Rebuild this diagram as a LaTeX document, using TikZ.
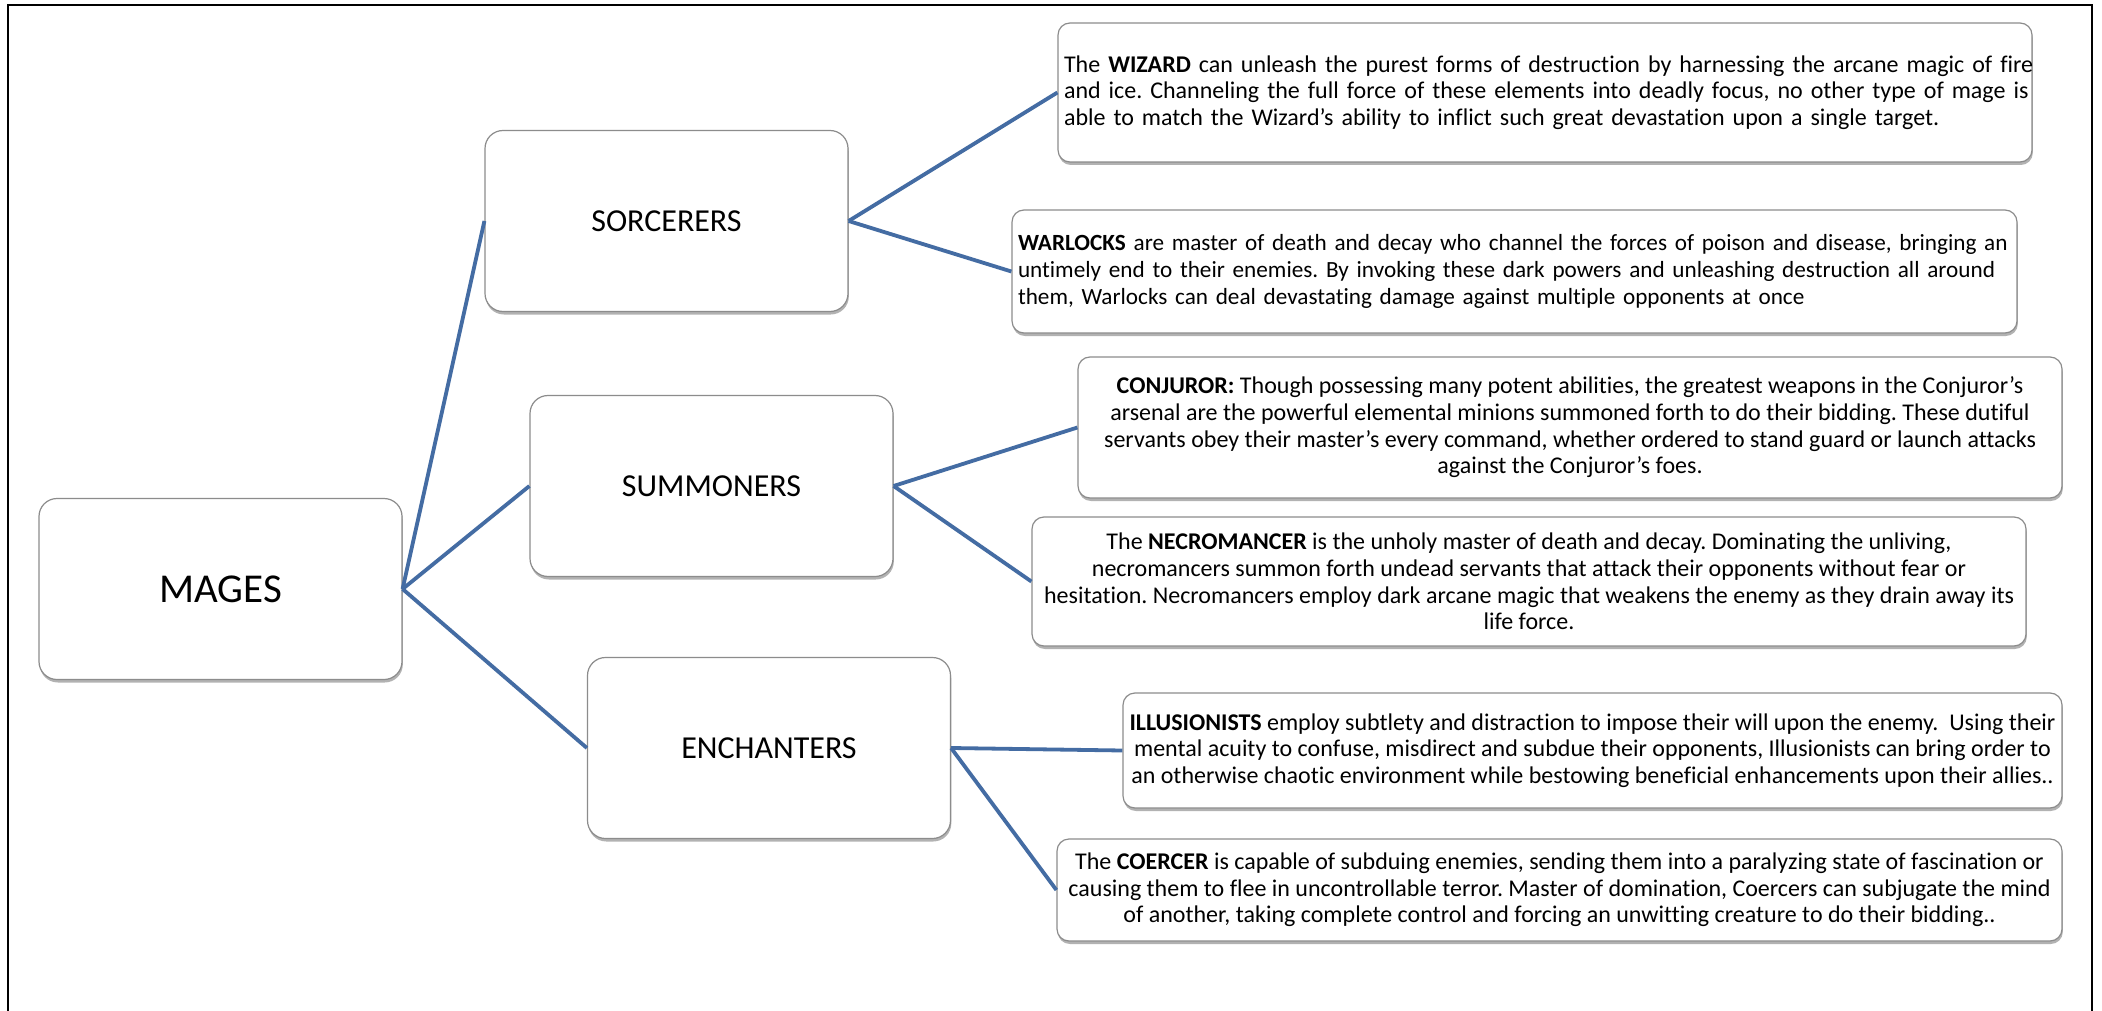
\documentclass[tikz,border=0pt]{standalone}
\usepackage{fontspec}
\setmainfont{Carlito}[Ligatures={TeX,NoCommon}]
\frenchspacing
\usetikzlibrary{shadows}

\definecolor{linkblue}{RGB}{68,108,163}
\definecolor{boxedge}{RGB}{140,140,140}

% a three-line paragraph: two full justified lines and a ragged last line
\newcommand\justpar[3]{\vbox{%
  \hbox to \hsize{#1}%
  \hbox to \hsize{#2}%
  \hbox to \hsize{#3\hfil}}}

\tikzset{
  box/.style={draw=boxedge, line width=1.2pt, fill=white,
    drop shadow={shadow xshift=0.8pt, shadow yshift=-3pt, fill=black, opacity=0.3}},
  group/.style={box, rounded corners=18pt, minimum width=363pt, minimum height=181pt,
    inner sep=0pt, font=\fontsize{32}{38}\selectfont},
  info/.style={box, rounded corners=12pt, inner sep=0pt,
    font=\fontsize{24}{26.7}\selectfont},
  link/.style={draw=linkblue, line width=3.8pt},
}

\begin{document}
\begin{tikzpicture}[x=1pt, y=-1pt]
  \useasboundingbox[fill=white] (0,0) rectangle (2102,1011);
  \draw[line width=2.5pt] (8,1020) -- (8,5) -- (2092,5) -- (2092,1020);

  % category boxes
  \node[group, font=\fontsize{41}{48}\selectfont] (mages) at (220.5,589) {MAGES};
  \node[group] (sorc) at (666.5,221) {SORCERERS};
  \node[group] (summ) at (711.5,486) {SUMMONERS};
  \node[group] (ench) at (769,748) {ENCHANTERS};

  % description boxes
  \node[info, minimum width=974pt, minimum height=139pt, text width=962pt] (wiz) at (1545,92.5) {%
    \justpar{The \textbf{WIZARD} can unleash the purest forms of destruction by harnessing the arcane magic of fire}
            {and ice. Channeling the full force of these elements into deadly focus, no other type of mage is}
            {able to match the Wizard's ability to inflict such great devastation upon a single target.}};

  \node[info, minimum width=1005pt, minimum height=123pt, text width=993pt,
        font=\fontsize{23.2}{26.7}\selectfont] (war) at (1514.5,271.5) {%
    \justpar{\textbf{WARLOCKS} are master of death and decay who channel the forces of poison and disease, bringing an}
            {untimely end to their enemies. By invoking these dark powers and unleashing destruction all around}
            {them, Warlocks can deal devastating damage against multiple opponents at once}};

  \node[info, minimum width=984pt, minimum height=141pt, align=center] (conj) at (1570,427.5) {%
    \textbf{CONJUROR:} Though possessing many potent abilities, the greatest weapons in the Conjuror's\\
    arsenal are the powerful elemental minions summoned forth to do their bidding. These dutiful\\
    servants obey their master's every command, whether ordered to stand guard or launch attacks\\
    against the Conjuror's foes.};

  \node[info, minimum width=994pt, minimum height=129pt, align=center] (necro) at (1529,581.5) {%
    The \textbf{NECROMANCER} is the unholy master of death and decay. Dominating the unliving,\\
    necromancers summon forth undead servants that attack their opponents without fear or\\
    hesitation. Necromancers employ dark arcane magic that weakens the enemy as they drain away its\\
    life force.};

  \node[info, minimum width=939pt, minimum height=115pt, align=center] (illu) at (1592.5,750.5) {%
    \textbf{ILLUSIONISTS} employ subtlety and distraction to impose their will upon the enemy.\ \ Using their\\
    mental acuity to confuse, misdirect and subdue their opponents, Illusionists can bring order to\\
    an otherwise chaotic environment while bestowing beneficial enhancements upon their allies..};

  \node[info, minimum width=1005pt, minimum height=102pt, align=center] (coer) at (1559.5,890) {%
    The \textbf{COERCER} is capable of subduing enemies, sending them into a paralyzing state of fascination or\\
    causing them to flee in uncontrollable terror. Master of domination, Coercers can subjugate the mind\\
    of another, taking complete control and forcing an unwitting creature to do their bidding..};

  % connectors
  \draw[link] (mages.east) -- (sorc.west);
  \draw[link] (mages.east) -- (summ.west);
  \draw[link] (mages.east) -- (ench.west);
  \draw[link] (sorc.east) -- (wiz.west);
  \draw[link] (sorc.east) -- (war.west);
  \draw[link] (summ.east) -- (conj.west);
  \draw[link] (summ.east) -- (necro.west);
  \draw[link] (ench.east) -- (illu.west);
  \draw[link] (ench.east) -- (coer.west);
\end{tikzpicture}
\end{document}
